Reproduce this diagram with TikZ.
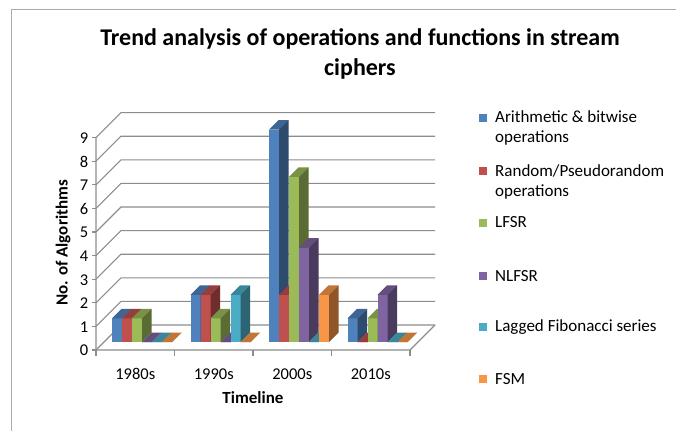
\documentclass[tikz,border=0pt]{standalone}
\usepackage{fontspec}
\setmainfont{Carlito}
\begin{document}
\begin{tikzpicture}[x=1pt,y=-1pt,
  axisline/.style={draw=axisgray,line width=1.1pt},
  ticklbl/.style={font=\fontsize{16.5}{19}\selectfont,text=black,inner sep=0pt},
  axtitle/.style={font=\bfseries\fontsize{17}{20}\selectfont,text=black,inner sep=0pt},
  titletxt/.style={font=\bfseries\fontsize{24}{30}\selectfont,anchor=base,inner sep=0pt},
  legtxt/.style={font=\fontsize{17}{20}\selectfont,anchor=base west,inner sep=0pt},
  legkey/.style={minimum size=8pt,inner sep=0pt,draw=none}]
\definecolor{axisgray}{RGB}{140,140,140}
\definecolor{framegray}{RGB}{170,170,170}
\definecolor{sA}{HTML}{4F81BD}
\definecolor{sB}{HTML}{C0504D}
\definecolor{sC}{HTML}{9BBB59}
\definecolor{sD}{HTML}{8064A2}
\definecolor{sE}{HTML}{4BACC6}
\definecolor{sF}{HTML}{F79646}
\useasboundingbox (0,0) rectangle (676,431);
\fill[white] (0,0) rectangle (676,431);
% chart frame
\draw[framegray,line width=0.8pt] (11,431) -- (11,9) -- (676,9);

% title, two lines
\node[titletxt] (title1) at (360,45.5) {Trend analysis of operations and functions in stream};
\node[titletxt] (title2) at (360,75.5) {ciphers};

% geometry: unit height, front axis origin, wall depth
\def\unit{23.6}
% side wall and back wall gridlines
\foreach \k in {0,...,9}{
  \draw[axisline] (96,{350-\k*\unit}) -- (121,{325-\k*\unit}) -- (435,{325-\k*\unit});
  \draw[axisline] (92,{350-\k*\unit}) -- (96,{350-\k*\unit});
  \node[ticklbl,anchor=east] (yl\k) at (88.5,{350.5-\k*\unit}) {\k};
}
% floor and front axis
\draw[axisline] (96,{350-9*\unit}) -- (96,350) -- (410,350) -- (435,325);
\foreach \c in {0,...,4}{
  \draw[axisline] ({96+\c*78.5},350) -- ({96+\c*78.5},356);
}
\foreach \lbl [count=\c from 0] in {1980s,1990s,2000s,2010s}{
  \node[ticklbl] (cat\c) at ({135.25+\c*78.5},374) {\lbl};
}
\node[axtitle] (xtitle) at (253,398) {Timeline};
\node[axtitle,rotate=90] (ytitle) at (63,243) {No. of Algorithms};

% 3-D columns: front face, top face, right side face
\newcommand{\colbar}[4]{% category, series, value, colour
  \pgfmathsetmacro{\bx}{112+#1*78.5+#2*10}
  \pgfmathsetmacro{\bh}{#3*\unit}
  \fill[#4] (\bx,342) rectangle ({\bx+10},{342-\bh});
  \fill[#4!78!black] (\bx,{342-\bh}) -- ({\bx+10},{342-\bh}) -- ({\bx+19.5},{332.5-\bh}) -- ({\bx+9.5},{332.5-\bh}) -- cycle;
  \fill[#4!58!black] ({\bx+10},342) -- ({\bx+19.5},332.5) -- ({\bx+19.5},{332.5-\bh}) -- ({\bx+10},{342-\bh}) -- cycle;
}
\foreach \c/\a/\b/\cc/\d/\e/\f in {0/1/1/1/0/0/0, 1/2/2/1/0/2/0, 2/9/2/7/4/0/2, 3/1/0/1/2/0/0}{
  \colbar{\c}{0}{\a}{sA}
  \colbar{\c}{1}{\b}{sB}
  \colbar{\c}{2}{\cc}{sC}
  \colbar{\c}{3}{\d}{sD}
  \colbar{\c}{4}{\e}{sE}
  \colbar{\c}{5}{\f}{sF}
}

% legend: key squares and entries
\foreach \y/\col [count=\i] in {122.7/sA,176/sB,227.7/sC,281/sD,331.7/sE,384/sF}{
  \node[legkey,fill=\col] (key\i) at (483,{\y-5}) {};
}
\node[legtxt] (leg1) at (495,122.7) {Arithmetic \& bitwise};
\node[legtxt] (leg1b) at (495,142.7) {operations};
\node[legtxt] (leg2) at (495,176) {Random/Pseudorandom};
\node[legtxt] (leg2b) at (495,196) {operations};
\node[legtxt] (leg3) at (495,227.7) {LFSR};
\node[legtxt] (leg4) at (495,281) {NLFSR};
\node[legtxt] (leg5) at (495,331.7) {Lagged Fibonacci series};
\node[legtxt] (leg6) at (495,384) {FSM};
\end{tikzpicture}
\end{document}
